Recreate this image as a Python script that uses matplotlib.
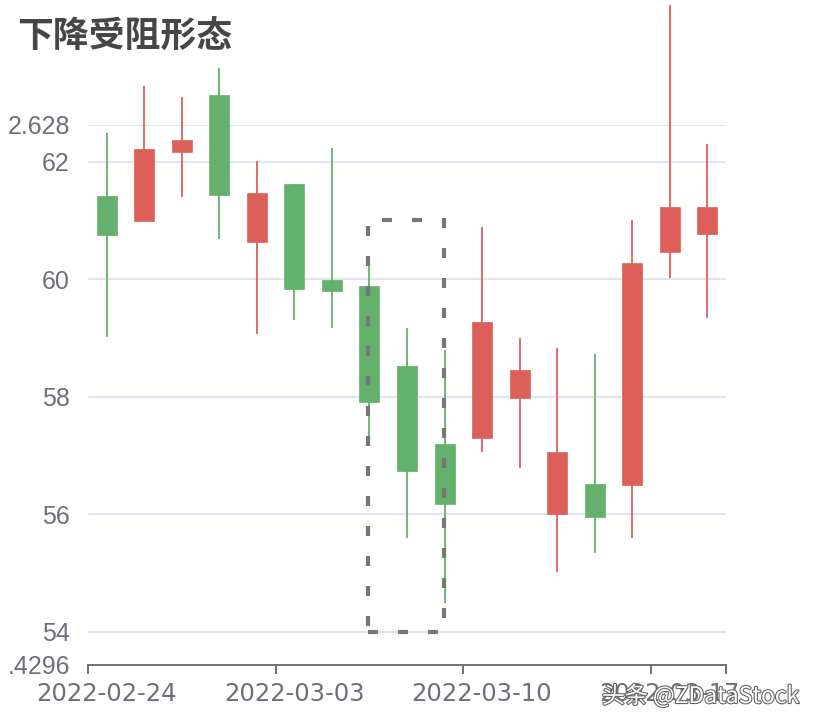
import numpy as np
import matplotlib
matplotlib.use("Agg")
import matplotlib.pyplot as plt
import matplotlib.patheffects as pe
from matplotlib.patches import Rectangle

plt.rcParams['font.family'] = ['Liberation Sans', 'Noto Sans CJK SC', 'DejaVu Sans']

# trading days
dates = ['2022-02-24', '2022-02-25', '2022-02-28', '2022-03-01', '2022-03-02',
         '2022-03-03', '2022-03-04', '2022-03-07', '2022-03-08', '2022-03-09',
         '2022-03-10', '2022-03-11', '2022-03-14', '2022-03-15', '2022-03-16',
         '2022-03-17', '2022-03-18']
opens = [61.42, 60.99, 62.17, 63.13, 60.64, 61.62, 59.99, 59.89, 58.52, 57.19,
         57.30, 57.98, 56.00, 56.51, 56.50, 60.47, 60.77]
closes = [60.76, 62.21, 62.37, 61.44, 61.46, 59.84, 59.79, 57.90, 56.73, 56.17,
          59.27, 58.46, 57.05, 55.95, 60.28, 61.22, 61.22]
highs = [62.49, 63.29, 63.10, 63.60, 62.02, 61.62, 62.23, 60.39, 59.16, 58.79,
         60.88, 59.00, 58.83, 58.73, 61.00, 64.67, 62.30]
lows = [59.01, 60.99, 61.40, 60.68, 59.06, 59.31, 59.16, 57.33, 55.59, 54.49,
        57.06, 56.79, 55.01, 55.33, 55.59, 60.02, 59.33]

y_min, y_max = 53.4296, 62.628
y_ticks = [53.4296, 54, 56, 58, 60, 62, 62.628]
y_labels = ['.4296', '54', '56', '58', '60', '62', '2.628']
label_every = 5

# the marked area (dashed box)
box_dates = ['2022-03-07', '2022-03-09']
box_prices = [54, 61]

up_color = '#dd5f5a'
down_color = '#63b16a'
axis_color = '#6e7079'
grid_color = '#e0e6f1'

fig = plt.figure(figsize=(8.14, 7.28), dpi=100)
ax = fig.add_axes([88 / 814, 1 - 665 / 728, 638 / 814, (665 - 124.8) / 728])

x = np.arange(len(dates))
for i in x:
    o, c, h, l = opens[i], closes[i], highs[i], lows[i]
    col = up_color if c >= o else down_color
    ax.plot([i, i], [l, h], color=col, lw=1.3, zorder=3, clip_on=False,
            solid_capstyle='butt')
    ax.add_patch(Rectangle((i - 0.267, min(o, c)), 0.534, abs(c - o),
                           facecolor=col, edgecolor=col, lw=0.5, zorder=4,
                           clip_on=False))

bx0, bx1 = dates.index(box_dates[0]), dates.index(box_dates[1])
ax.add_patch(Rectangle((bx0 - 0.04, box_prices[0]), bx1 - bx0 + 0.02,
                       box_prices[1] - box_prices[0], fill=False,
                       edgecolor='#777777', lw=3, linestyle=(0, (2.4, 4.8)),
                       zorder=6, clip_on=False))

ax.set_xlim(-0.5, len(dates) - 0.5)
ax.set_ylim(y_min, y_max)

ax.set_yticks(y_ticks, labels=y_labels)
for yt in y_ticks[1:]:
    ax.axhline(yt, color=grid_color, lw=1.5, zorder=1)

lab_idx = x[::label_every]
ax.set_xticks(lab_idx, labels=[dates[i] for i in lab_idx])
ax.set_xticks(list(lab_idx - 0.5) + [len(dates) - 0.5], minor=True)
ax.tick_params(axis='x', which='major', length=0, pad=12,
               labelsize=17.5, labelcolor=axis_color)
for t in ax.get_xticklabels():
    t.set_family('DejaVu Sans')
ax.tick_params(axis='x', which='minor', length=6.5, width=1.4,
               color=axis_color)
ax.tick_params(axis='y', length=0, pad=13, labelsize=18,
               labelcolor=axis_color)

for s in ['top', 'right', 'left']:
    ax.spines[s].set_visible(False)
ax.spines['bottom'].set_color(axis_color)
ax.spines['bottom'].set_linewidth(1.4)
ax.spines['bottom'].set_zorder(5)

fig.text(17 / 814, 1 - 47.5 / 728, '下降受阻形态', fontsize=25.8,
         fontweight='bold', color='#464646',
         family=['Noto Sans CJK SC', 'DejaVu Sans'], va='baseline')

fig.text(602 / 814, 1 - 703 / 728, '头条 @ZDataStock', fontsize=16.5,
         color='white', family=['Noto Sans CJK SC', 'DejaVu Sans'],
         va='baseline', zorder=10,
         path_effects=[pe.withStroke(linewidth=1.6, foreground='#666666')])

fig.savefig('out.png', dpi=100)
